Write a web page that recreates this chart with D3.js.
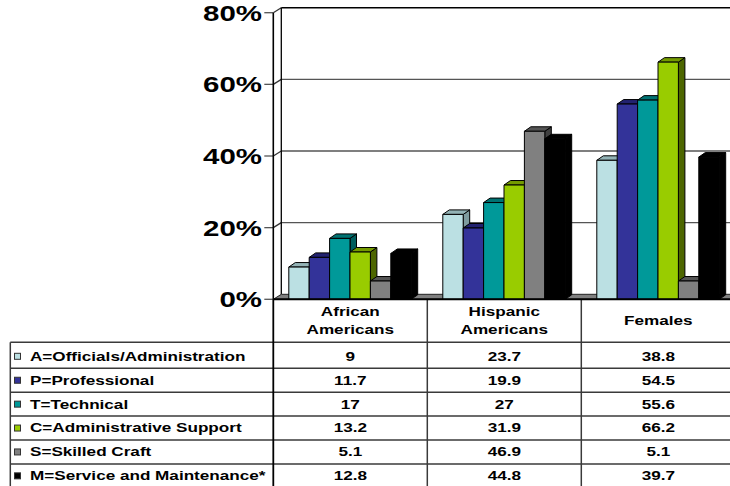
<!DOCTYPE html>
<html>
<head>
<meta charset="utf-8">
<script src="https://cdn.jsdelivr.net/npm/d3@7"></script>
<style>
  body { margin: 0; background: #fff; overflow: hidden; }
  text { font-family: Arial, "Liberation Sans", sans-serif; font-weight: bold; fill: #000; }
</style>
</head>
<body>
<svg id="chart" width="730" height="486"></svg>
<script>
// ---- data ----
const groups = ["African Americans", "Hispanic Americans", "Females"];
const groupLines = [["African", "Americans"], ["Hispanic", "Americans"], ["Females"]];
const seriesNames = [
  "A=Officials/Administration",
  "P=Professional",
  "T=Technical",
  "C=Administrative Support",
  "S=Skilled Craft",
  "M=Service and Maintenance*"
];
const officials    = [9, 23.7, 38.8];
const professional = [11.7, 19.9, 54.5];
const technical    = [17, 27, 55.6];
const adminSupport = [13.2, 31.9, 66.2];
const skilledCraft = [5.1, 46.9, 5.1];
const serviceMaint = [12.8, 44.8, 39.7];
const yTicks = [0, 20, 40, 60, 80];
const yTickLabels = ["0%", "20%", "40%", "60%", "80%"];

const seriesValues = [officials, professional, technical, adminSupport, skilledCraft, serviceMaint];

// face colours: front, top, side
const frontColors = ["#BBE0E3", "#333399", "#009999", "#99CC00", "#808080", "#000000"];
const topColors   = ["#93B3B6", "#222270", "#007272", "#749B00", "#555555", "#000000"];
const sideColors  = ["#7E9C9F", "#1C1C5C", "#005E5E", "#4D6600", "#404040", "#000000"];

// ---- layout ----
const svg = d3.select("#chart");
const stretch = 1.37;            // horizontal stretch of all lettering
const depthX = 8, depthY = -5;   // wall depth offset
const barDX = 6.5, barDY = -4.5; // bar depth offset
const plotLeft = 273.3, colW = 154;
const tableTop = 299.3, headerBottom = 342.3;

const y = d3.scaleLinear().domain([0, 80]).range([299.3, 12.7]);
const x = d3.scaleBand().domain(groups).range([plotLeft, plotLeft + colW * 3]).padding(0);
const xInner = d3.scaleBand().domain(seriesNames).range([15.5, 15.5 + 122.4]).padding(0);

function stretchedText(g, str, px, py, size, anchor) {
  return g.append("text")
    .attr("transform", `translate(${px},${py}) scale(${stretch},1)`)
    .attr("text-anchor", anchor)
    .attr("dy", "0.35em")
    .style("font-size", size + "px")
    .text(str);
}

// ---- walls & gridlines ----
const wall = svg.append("g");
const backLeft = plotLeft + depthX;
const rightEdge = plotLeft + colW * 3 + depthX;

yTicks.forEach(t => {
  const yf = y(t), yb = y(t) + depthY;
  if (t > 0) {
    wall.append("line").attr("x1", backLeft).attr("x2", rightEdge).attr("y1", yb).attr("y2", yb)
      .attr("stroke", t === 80 ? "#000" : "#555").attr("stroke-width", t === 80 ? 1.5 : 1.3);
    wall.append("line").attr("x1", plotLeft).attr("x2", backLeft).attr("y1", yf).attr("y2", yb)
      .attr("stroke", "#333").attr("stroke-width", 1.3);
  }
  // tick marks
  wall.append("line").attr("x1", plotLeft - 9).attr("x2", plotLeft).attr("y1", yf).attr("y2", yf)
    .attr("stroke", "#555").attr("stroke-width", 1.3);
});

// left wall edges
wall.append("line").attr("x1", plotLeft).attr("x2", plotLeft).attr("y1", y(80)).attr("y2", y(0))
  .attr("stroke", "#000").attr("stroke-width", 1.6);
wall.append("line").attr("x1", backLeft).attr("x2", backLeft).attr("y1", y(80) + depthY).attr("y2", y(0) + depthY)
  .attr("stroke", "#000").attr("stroke-width", 1.3);

// floor
wall.append("path")
  .attr("d", `M${plotLeft},${y(0)} L${rightEdge - depthX},${y(0)} L${rightEdge},${y(0) + depthY} L${backLeft},${y(0) + depthY} Z`)
  .attr("fill", "#808080").attr("stroke", "#222").attr("stroke-width", 1);

// ---- 3D bars ----
const barsG = svg.append("g");
groups.forEach((grp, gi) => {
  seriesNames.forEach((s, si) => {
    const v = seriesValues[si][gi];
    const x0 = x(grp) + xInner(s);
    const w = xInner.bandwidth();
    const yt = y(v), yb = y(0);
    const g = barsG.append("g").attr("stroke", "#000").attr("stroke-width", 1).attr("stroke-linejoin", "round");
    // side face
    g.append("path")
      .attr("d", `M${x0 + w},${yt} L${x0 + w + barDX},${yt + barDY} L${x0 + w + barDX},${yb + barDY} L${x0 + w},${yb} Z`)
      .attr("fill", sideColors[si]);
    // top face
    g.append("path")
      .attr("d", `M${x0},${yt} L${x0 + barDX},${yt + barDY} L${x0 + w + barDX},${yt + barDY} L${x0 + w},${yt} Z`)
      .attr("fill", topColors[si]);
    // front face
    g.append("rect")
      .attr("x", x0).attr("y", yt).attr("width", w).attr("height", yb - yt)
      .attr("fill", frontColors[si]);
  });
});

// ---- y axis labels ----
const axisG = svg.append("g");
yTicks.forEach((t, i) => {
  stretchedText(axisG, yTickLabels[i], 262, y(t) + 0.5, 21.5, "end");
});

// ---- data table ----
const table = svg.append("g");
const lineColor = "#3a3a3a";
const tableRight = plotLeft + colW * 3;
const rowTop = i => (i === 0 ? headerBottom : 344.4 + i * 23.9);
const rowBottom = i => 344.4 + (i + 1) * 23.9;

// header text
groups.forEach((grp, gi) => {
  const cx = x(grp) + colW / 2;
  const lines = groupLines[gi];
  const mid = (tableTop + headerBottom) / 2;
  lines.forEach((ln, li) => {
    const ly = lines.length === 1 ? mid : mid + (li - 0.5) * 17.6;
    stretchedText(table, ln, cx, ly, 12.5, "middle");
  });
});

// row lines
seriesNames.forEach((s, si) => {
  table.append("line").attr("x1", 10.3).attr("x2", tableRight).attr("y1", rowTop(si)).attr("y2", rowTop(si))
    .attr("stroke", lineColor).attr("stroke-width", 1.5);
});
table.append("line").attr("x1", 10.3).attr("x2", tableRight).attr("y1", rowBottom(5)).attr("y2", rowBottom(5))
  .attr("stroke", lineColor).attr("stroke-width", 1.5);
// vertical lines
table.append("line").attr("x1", 10.3).attr("x2", 10.3).attr("y1", headerBottom).attr("y2", 490)
  .attr("stroke", lineColor).attr("stroke-width", 1.5);
groups.forEach(grp => {
  const xl = x(grp);
  table.append("line").attr("x1", xl).attr("x2", xl).attr("y1", tableTop).attr("y2", 490)
    .attr("stroke", grp === groups[0] ? "#000" : lineColor).attr("stroke-width", grp === groups[0] ? 1.8 : 1.5);
});
// front edge of floor / top of table
table.append("line").attr("x1", plotLeft).attr("x2", tableRight).attr("y1", tableTop).attr("y2", tableTop)
  .attr("stroke", "#000").attr("stroke-width", 2);

// legend keys, names and values
seriesNames.forEach((s, si) => {
  const cy = (rowTop(si) + rowBottom(si)) / 2 + (si === 0 ? 1 : 0);
  table.append("rect").attr("x", 14.5).attr("y", cy - 3).attr("width", 6).attr("height", 6)
    .attr("fill", frontColors[si]).attr("stroke", "#333").attr("stroke-width", 1);
  stretchedText(table, s, 30, cy, 12.5, "start");
  groups.forEach((grp, gi) => {
    stretchedText(table, String(seriesValues[si][gi]), x(grp) + colW / 2, cy, 12.5, "middle");
  });
});
</script>
</body>
</html>
